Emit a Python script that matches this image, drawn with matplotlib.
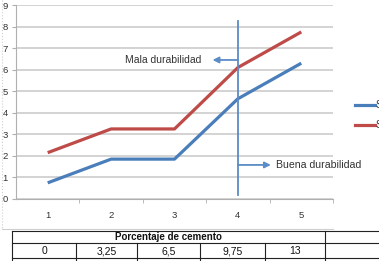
import matplotlib
matplotlib.use("Agg")
import matplotlib.pyplot as plt
from matplotlib.lines import Line2D

plt.rcParams['font.family'] = ['Liberation Sans', 'DejaVu Sans']

categories = [1, 2, 3, 4, 5]
serie1 = [0.75, 1.85, 1.85, 4.65, 6.3]
serie2 = [2.15, 3.25, 3.25, 6.1, 7.75]
series_names = ["Serie1", "Serie2"]
cemento = ["0", "3,25", "6,5", "9,75", "13"]
table_title = "Porcentaje de cemento"
yticks = list(range(0, 10))

W, H = 379, 261
fig = plt.figure(figsize=(W / 100, H / 100), dpi=100)
fig.patch.set_facecolor("white")

ax = fig.add_axes([16 / W, (H - 199) / H, 317 / W, 194 / H])
ax.set_xlim(0.5, 5.5)
ax.set_ylim(0, 9)
ax.set_yticks(yticks)
ax.set_xticks(categories)
ax.grid(axis="y", color="#c8c8c8", linewidth=1.1)
ax.set_axisbelow(True)
for s in ["top", "right"]:
    ax.spines[s].set_visible(False)
ax.spines["left"].set_color("#b0b0b0")
ax.spines["bottom"].set_color("#b0b0b0")
ax.tick_params(axis="y", length=3, color="#b0b0b0", labelsize=6.8, pad=3, labelcolor="#333333")
ax.tick_params(axis="x", length=0, labelsize=6.8, pad=9, labelcolor="#333333")
ax.set_xticks([1.5, 2.5, 3.5, 4.5, 5.5], minor=True)
ax.tick_params(axis="x", which="minor", length=3, color="#b0b0b0")

blue = "#4a7ebb"
red = "#be4b48"
ax.plot(categories, serie1, color=blue, linewidth=2.3, solid_capstyle="butt", label=series_names[0])
ax.plot(categories, serie2, color=red, linewidth=2.3, solid_capstyle="butt", label=series_names[1])

# vertical threshold line
ax.plot([4, 4], [0.2, 8.25], color="#5b8cc6", linewidth=1.3, clip_on=False)
# Mala durabilidad arrow
ax.annotate("", xy=(3.6, 6.45), xytext=(4.0, 6.45),
            arrowprops=dict(arrowstyle="-|>", color="#5b8cc6", lw=1.3, mutation_scale=9, shrinkA=0, shrinkB=0))
ax.text(3.43, 6.45, "Mala durabilidad", ha="right", va="center", fontsize=7.5, color="#333333")
# Buena durabilidad arrow
ax.annotate("", xy=(4.52, 1.58), xytext=(4.0, 1.58),
            arrowprops=dict(arrowstyle="-|>", color="#5b8cc6", lw=1.3, mutation_scale=9, shrinkA=0, shrinkB=0))
ax.text(4.6, 1.58, "Buena durabilidad", ha="left", va="center", fontsize=7.6, color="#333333")

# legend (clipped by figure edge, as in the reference)
fig.add_artist(Line2D([355 / W, 375 / W], [1 - 105 / H] * 2, color=blue, linewidth=2.3, transform=fig.transFigure))
fig.add_artist(Line2D([355 / W, 375 / W], [1 - 125 / H] * 2, color=red, linewidth=2.3, transform=fig.transFigure))
fig.text(376 / W, 1 - 105 / H, series_names[0], fontsize=7, va="center", color="#333333")
fig.text(376 / W, 1 - 125 / H, series_names[1], fontsize=7, va="center", color="#333333")

# chart border (light)
fig.add_artist(Line2D([2 / W, 2 / W], [1, 1 - 229 / H], color="#cfcfcf", linewidth=0.8, linestyle=":", transform=fig.transFigure))
fig.add_artist(Line2D([2 / W, 333 / W], [1 - 229 / H] * 2, color="#cfcfcf", linewidth=0.8, transform=fig.transFigure))

# table below
tax = fig.add_axes([0, 0, 1, 1], facecolor="none")
tax.set_xlim(0, W)
tax.set_ylim(H, 0)
tax.axis("off")
cols = [12, 76, 137, 200, 265, 325]
y_top, y_mid, y_bot = 231, 243, 258
lc = "#222222"
tax.plot([12, W], [y_top, y_top], color=lc, linewidth=0.8)
tax.plot([12, W], [y_mid, y_mid], color=lc, linewidth=0.8)
tax.plot([12, W], [y_bot, y_bot], color=lc, linewidth=0.8)
tax.plot([12, 12], [y_top, H], color=lc, linewidth=0.8)
tax.plot([325, 325], [y_top, H], color=lc, linewidth=0.8)
for c in cols[1:-1]:
    tax.plot([c, c], [y_mid, H], color=lc, linewidth=0.8)
tax.text((12 + 325) / 2, (y_top + y_mid) / 2 + 0.5, table_title, ha="center", va="center",
         fontsize=7, fontweight="bold", color="#111111")
for i, v in enumerate(cemento):
    tax.text((cols[i] + cols[i + 1]) / 2, (y_mid + y_bot) / 2 + 0.5, v, ha="center", va="center",
             fontsize=7.5, color="#111111")

fig.savefig("out.png", dpi=100)
